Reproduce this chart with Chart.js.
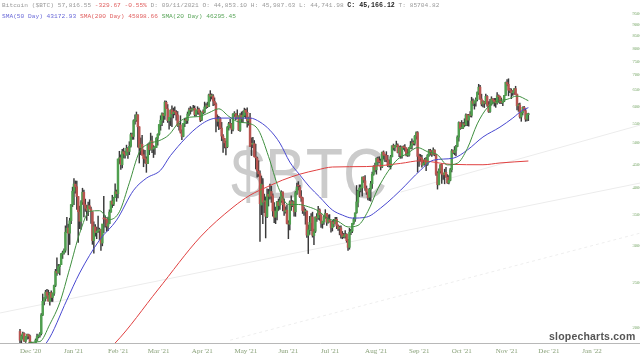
<!DOCTYPE html>
<html><head><meta charset="utf-8">
<script src="https://cdn.jsdelivr.net/npm/chart.js@4.4.0/dist/chart.umd.min.js"></script>
<style>
html,body{margin:0;padding:0;background:#fff;}
#wrap{position:relative;width:640px;height:359px;overflow:hidden;background:#fff;}
canvas{position:absolute;left:0;top:0;}
.hdr{position:absolute;left:2px;font-family:'Liberation Mono',monospace;font-size:6.2px;color:#9a9a9a;white-space:pre;line-height:8px;}
.hdr .r{color:#e06060}.hdr .b{color:#6a6ad8}.hdr .g{color:#5aa55a}
.hdr .c{color:#222;font-weight:bold;font-size:6.6px}
#brand{position:absolute;left:549px;top:330px;font:bold 10.5px 'Liberation Sans',sans-serif;color:#555;letter-spacing:0.2px;}
</style></head>
<body><div id="wrap"><canvas id="c" width="640" height="359"></canvas>
<div class="hdr" style="top:2px">Bitcoin ($BTC) 57,816.55 <span class="r">-329.67 -0.55%</span> D: 09/11/2021 O: 44,853.10 H: 45,987.63 L: 44,741.98 <span class="c">C: 45,166.12</span> T: 85704.82</div>
<div class="hdr" style="top:13px"><span class="b">SMA(50 Day) 43172.93</span> <span class="r">SMA(200 Day) 45898.66</span> <span class="g">SMA(20 Day) 46295.45</span></div>
<div id="brand">slopecharts.com</div></div>
<script>
// day index 0 = 2020-12-01 (daily candles to 2021-11-24)
const open = [
19633,18802,19205,19446,18699,19154,19343,19191,18320,18553,18264,18051,18806,19144,19246,19418,21308,22806,23133,23861,23475,22795,23782,23240,23733,24678,26439,26280,27081,27360,28841,
28994,29376,32129,32810,31977,34013,36833,39381,40788,40254,38346,35516,33915,37325,39156,36821,36163,35792,36642,36050,35549,30818,32986,32064,32285,32358,32564,30441,34318,34295,34270,
33115,33533,35510,37475,36931,38138,39250,38886,46184,46469,44898,47877,47491,47114,48696,47944,49207,52141,51675,55887,56115,57532,54204,48835,49709,47180,46344,46194,
45159,49612,48415,50522,48527,48899,48919,51207,52273,54824,55963,57821,57343,61221,59267,55840,56825,58893,57850,58332,58309,57517,54512,54711,52726,51683,55138,55974,55947,57750,58930,
58926,59098,59398,57604,58761,59171,58186,56100,58287,58254,59846,60175,59890,63523,63075,63158,61529,60701,56191,55681,56471,53857,51740,51143,50052,49077,54030,55036,54858,53568,
57714,57825,56620,57214,53252,57441,56413,57352,58877,58250,55848,56714,49735,49682,49855,46716,46415,43488,42944,36753,40597,37371,37531,34700,38795,38392,39317,38507,35684,34607,35659,
37293,36699,37600,39243,36880,35538,35835,33589,33417,37389,36697,37340,35555,39016,40427,40168,38342,38100,35854,35563,35641,31622,32515,33683,34659,31594,32287,34679,34475,35908,
35035,33550,33854,34665,35284,33723,34225,33889,32861,33809,33510,34259,33155,32724,32828,31842,31398,31533,31801,30838,29796,32138,32305,33593,34290,35384,37276,39456,39978,40028,42213,
41460,39907,39178,38213,39745,40865,42832,44574,43791,46280,45601,45576,44440,47810,47097,47020,45937,44686,44741,46723,49328,48870,49291,49533,47683,48992,46895,49080,48868,48813,47100,
47099,48808,49288,50026,49946,51769,52661,46827,46395,46400,44870,45206,46057,44960,47098,48158,47771,47273,48268,47262,43013,40677,43560,44928,42840,42721,43234,42200,41064,41551,
43816,48137,47680,48208,49174,51486,55338,53802,53929,54952,54734,57526,56038,57372,57345,61609,60887,61548,62044,64284,66002,62237,60694,61368,60893,63033,60352,58470,60625,62239,61850,
61320,60964,63254,62942,61460,61069,61554,63344,67550,66953,64978,64864,64158,64455,65521,63721,60139,60361,56896,58115,59730,58706,56304,57565];
const high = [
19845,19308,19566,19511,19160,19390,19375,19283,18627,18553,18268,18919,19381,19305,19525,21458,23642,23238,24085,24209,24103,23838,24024,23768,24710,26718,28288,27390,27370,28937,29244,
29601,33155,34608,33440,34437,36879,40180,41946,41436,41420,38346,36568,37599,39966,39577,37864,36722,37299,37755,36378,35552,33811,33360,32944,34802,32794,32564,31891,38406,34834,34288,
34638,35896,37480,38592,38225,40846,39621,46203,48003,47145,48463,48745,48047,49487,48875,50341,52534,52530,56114,57506,58330,57533,54204,51290,51948,48370,48253,46716,
49784,50128,52536,51735,49396,49147,51384,52314,54824,57258,58091,57996,61683,61598,60540,56833,58970,60116,59498,59882,58767,58471,55115,57262,53392,55137,56568,56610,58343,59447,59931,
59586,60267,60110,58913,59891,59479,58731,58338,58937,61276,60790,61253,63742,64863,63821,63595,62572,61057,57520,57062,56757,55410,52121,51167,50506,54288,55416,56227,55115,57900,
58448,57902,58973,57214,57911,58363,58606,59464,59210,59519,56872,57939,51330,51438,50639,49720,46623,45813,43546,42462,41934,38832,38289,39835,39776,40782,40379,38856,37234,36400,37469,
37896,38231,39476,39242,37917,36436,36790,34017,37537,38492,37599,37468,39322,40978,41295,40516,39513,38187,36457,36059,35721,33292,34753,35228,35487,32637,34656,35219,36542,36074,
35035,33939,34909,35937,35284,35038,35059,33907,34042,34249,34593,34591,33339,33114,33159,32249,31935,32399,31885,31006,32752,32576,33581,34492,35364,40499,39543,40640,40626,42236,42314,
42541,40419,39208,39952,41341,43271,44689,45282,46456,46637,46718,46195,47829,48098,47357,47912,47042,46031,47036,49343,49757,49471,50482,49810,49237,49349,49125,49330,49600,48849,48481,
48936,50392,51033,50558,51900,52853,52920,47339,47261,47031,45969,46364,46598,47218,48450,48486,48158,48842,48370,47345,43397,43978,44942,45123,42996,43919,44313,42775,42545,44092,
48436,48282,49130,49456,51839,55568,55338,55922,55397,56401,57794,57627,57688,58478,62757,62274,61645,62614,64434,66930,66600,63732,61743,61505,63729,63290,61435,62128,62927,62330,62406,
62419,64242,63516,63123,62541,61590,63326,67673,68530,68789,65579,65460,64915,65495,66281,63721,60823,60976,58351,59859,60004,59266,57876,58000];
const low = [
18321,18347,18925,18697,18590,18897,18925,18269,17935,17957,17619,18046,18735,19012,19079,19298,21234,22399,22829,23147,22858,22378,22802,22777,23463,24522,25922,26207,25987,27360,28201,
28804,29091,32052,28722,30221,33514,36491,36838,38981,35984,30549,32697,32584,36868,34659,35633,34069,34883,36069,33570,30250,28953,31493,31106,32087,30943,29367,30023,32064,32940,32270,
32384,33490,35443,36317,36658,38138,37447,38077,45166,43881,44187,46424,46392,47114,46347,47201,48967,50906,50937,54894,55673,48967,45290,47213,47093,44454,45269,43241,
45115,47229,48274,47656,46543,47257,48918,49506,51981,53290,54484,55376,56217,59302,55393,53555,54528,54253,56643,57470,56005,54288,53325,52514,50856,51579,54242,55071,55139,57251,57727,
58505,58870,57117,57168,57694,57646,55604,55879,57807,58038,59289,59589,59870,61554,62208,60222,60361,52829,54368,53448,53695,50583,47714,48805,47159,48852,53319,53887,52418,53129,
57052,56141,56590,53191,52969,55383,55321,56975,56482,54071,54608,49150,46980,48868,46664,43963,42207,42367,30681,35050,33533,35383,31227,34551,36581,37868,37247,34779,33693,33520,34154,
35787,35967,37243,35717,34900,35304,33480,31114,32475,35787,36463,34800,34757,38757,39609,38176,37439,35255,34933,33432,31295,28893,31772,32385,31351,30184,32071,33902,34252,34086,
32883,32770,33402,34396,33213,33599,33769,32133,32318,33019,33457,32700,32407,31704,31176,31100,31223,31178,30563,29360,29526,31745,32057,33401,33881,35287,36400,38313,39251,38397,41110,
39540,38746,37702,37589,37458,39932,42618,43331,42848,44705,45348,43747,44254,46177,45579,45548,44448,44376,43955,46650,48273,48116,49075,47621,46709,46352,46395,48428,48005,46930,46785,
46856,48652,48493,49534,49506,50992,43285,44553,45669,44344,44818,44790,43591,44753,46773,47079,46800,47084,46938,42600,39787,40625,43094,40936,41759,40848,42190,40931,40829,41444,
43321,47465,47157,46937,49072,50488,53525,53688,53735,54264,54519,54477,54370,56957,56869,60206,59164,60012,61622,63610,62117,60122,59826,59643,60691,59992,58208,58206,60329,60918,60074,
59695,60673,61184,60799,60844,60164,61432,63344,66382,63208,64181,62333,63303,63647,63548,58966,58515,56542,55705,57470,58618,55679,55842,55893];
const close = [
18802,19201,19445,18699,19154,19345,19191,18321,18553,18264,18058,18803,19142,19246,19417,21310,22805,23137,23869,23477,22803,23783,23241,23735,24665,26437,26273,27084,27362,28841,29002,
29374,32127,32782,31971,33992,36824,39371,40797,40254,38356,35566,33922,37316,39187,36825,36178,35791,36630,36069,35547,30825,33005,32067,32289,32366,32569,30432,33466,34316,34269,33114,
33537,35510,37472,36926,38144,39266,38903,46196,46481,44919,47909,47504,47105,48717,47945,49199,52149,51679,55888,56100,57539,54207,48824,49705,47093,46339,46188,45137,
49632,48378,50538,48561,48927,48912,51206,52246,54824,56008,57805,57332,61243,59302,55907,56804,58870,57858,58346,58313,57524,54529,54738,52774,51704,55137,55974,55947,57750,58918,58918,
59095,59384,57603,58758,59057,58192,56048,58323,58245,59793,60204,59893,63503,63109,63314,61572,60683,56216,55724,56473,53906,51762,51093,50050,49004,54021,55033,54824,53555,57750,
57828,56631,57200,53333,57424,56397,57356,58804,58232,55859,56704,49150,49716,49880,46760,46456,43538,42909,37002,40782,37304,37536,34770,38705,38403,39294,38436,35697,34617,35678,37332,
36685,37576,39188,36825,35791,35862,33561,33473,37345,36703,37334,35553,39097,40218,40406,38347,38053,35787,35615,35698,31676,32505,33723,34662,31637,32186,34650,34495,35867,35040,
33572,33897,34668,35287,33746,34235,33855,32877,33798,33520,34240,33155,32702,32822,31780,31421,31533,31796,30817,29807,32110,32313,33581,34292,35350,37337,39406,39995,40008,42235,41626,
39974,39201,38152,39747,40869,42816,44555,43798,46365,45585,45593,44428,47793,47096,47047,46004,44695,44801,46717,49339,48905,49321,49546,47706,48960,46942,49058,48897,48806,47074,47166,
48847,49327,50025,49944,51753,52633,46812,46091,46391,44883,45201,46063,44963,47092,48176,47783,47267,48278,47260,42843,40693,43574,44895,42840,42716,43208,42236,41034,41564,43790,
48116,47711,48199,49112,51514,55361,53805,53967,54968,54771,57484,56041,57401,57321,61593,60892,61553,62026,64262,65992,62210,60693,61393,60931,63040,60364,58482,60622,62228,61888,61318,
61004,63227,62970,61453,61125,61528,63326,67566,66971,64995,64950,64155,64470,65466,63557,60161,60369,56942,58119,59697,58730,56289,57570,57816];

// moving averages (day index, price)
const sma20Days = [0,7,14,21,28,35,42,49,56,63,70,77,84,91,98,105,112,119,126,133,140,147,154,161,168,175,182,189,196,203,210,217,224,231,238,245,252,259,266,273,280,287,294,301,308,315,322,329,336,343,350,358];
const sma20Vals = [17750,18593,18673,20341,22646,26838,31937,35617,35747,34200,35558,41045,47780,49862,50596,52119,55463,56839,57026,58122,59259,57096,55499,55143,53274,46813,40075,36876,36869,36452,35711,34350,33904,32976,33233,35637,39860,43379,46149,47515,48889,47898,47174,44870,45232,48667,54994,59535,61552,62117,63149,61690];
const sma50Days = [10,19,33,42,56,68,80,89,99,106,127,139,162,169,176,183,190,197,204,211,220,227,234,244,254,263,268,282,291,305,315,326,338,347,354,358];
const sma50Vals = [17800,18630,22940,26240,30900,34100,39560,42000,43700,47000,54700,56600,56600,55500,53300,50000,45500,42700,40200,38260,35860,34980,34460,34630,36220,38260,39560,43700,45920,46380,48300,51520,54120,56600,58880,59600];
const sma200Days = [60,67,97,127,150,162,174,185,197,209,220,244,268,282,303,326,338,358];
const sma200Vals = [17800,18540,24120,31380,36360,38600,40220,41620,42840,43740,44400,44500,45200,45800,45000,44900,45300,45740];

// faint drawn trendlines (day index, price) endpoints
const trendA = [[268,39200],[437,54700]];
const trendB = [[-14,21520],[437,41020]];
const trendC = [[148,18800],[437,32000]];

const monthDays = [0,31,62,90,121,151,182,212,243,274,304,335,365,396];
const monthLabels = ["Dec '20","Jan '21","Feb '21","Mar '21","Apr '21","May '21","Jun '21","Jul '21","Aug '21","Sep '21","Oct '21","Nov '21","Dec '21","Jan '22"];
const yTicks = [20000,25000,30000,35000,40000,45000,50000,55000,60000,65000,70000,75000,80000,85000,90000,95000];

const wicks = close.map((c,i)=>({x:i, y:[low[i], high[i]]}));
const bodies = close.map((c,i)=>({x:i, y:[Math.min(open[i],c), Math.max(open[i],c)]}));
const pts = (d,v)=>d.map((x,i)=>({x, y:v[i]}));
const seg = t=>t.map(p=>({x:p[0], y:p[1]}));

const watermark = {id:'wm', beforeDatasetsDraw(chart){
  const ctx = chart.ctx; ctx.save();
  ctx.fillStyle = '#cbcbcb'; ctx.font = '71px "Liberation Sans", sans-serif';
  ctx.textBaseline = 'alphabetic'; ctx.translate(231,198); ctx.scale(0.86,1);
  ctx.fillText('$BTC',0,0); ctx.restore();
}};

const lineDs = (data,color,order,extra)=>Object.assign({type:'line',data,borderColor:color,borderWidth:1,pointRadius:0,fill:false,cubicInterpolationMode:'monotone',order},extra||{});

new Chart(document.getElementById('c'), {
  type:'bar',
  data:{datasets:[
    lineDs(pts(sma20Days,sma20Vals),'#3f8f3f',0),
    lineDs(pts(sma50Days,sma50Vals),'#4848d0',0),
    lineDs(pts(sma200Days,sma200Vals),'#e04040',0),
    {type:'bar',data:bodies,order:1,grouped:false,barThickness:1.8,minBarLength:1,borderWidth:0,
      backgroundColor:ctx=>close[ctx.dataIndex]>=open[ctx.dataIndex]?'#4f9f4f':'#b85450'},
    {type:'bar',data:wicks,order:2,grouped:false,barThickness:0.8,borderWidth:0,backgroundColor:'#3a3a3a'},
    lineDs(seg(trendA),'rgba(0,0,0,0.08)',3,{cubicInterpolationMode:'default',tension:0}),
    lineDs(seg(trendB),'rgba(0,0,0,0.08)',3,{cubicInterpolationMode:'default',tension:0}),
    lineDs(seg(trendC),'rgba(0,0,0,0.07)',3,{cubicInterpolationMode:'default',tension:0,borderDash:[3,3]})
  ]},
  options:{
    responsive:false, animation:false, devicePixelRatio:1,
    layout:{padding:0},
    plugins:{legend:{display:false},tooltip:{enabled:false}},
    scales:{
      x:{type:'linear',min:-14.08,max:436.6,offset:false,
        grid:{display:false,drawTicks:false},
        border:{display:true,color:'#b8b8b8',width:1},
        afterBuildTicks:s=>{s.ticks=monthDays.map(v=>({value:v}));},
        afterFit:s=>{s.height=16;s.paddingLeft=0;s.paddingRight=0;},
        ticks:{autoSkip:false,maxRotation:0,minRotation:0,align:'start',padding:4,color:'#88a078',
          font:{family:'Liberation Serif',size:7},callback:(v,i)=>monthLabels[i]}
      },
      y:{type:'logarithmic',position:'right',min:18540,max:101690,
        grid:{display:false,drawTicks:false},border:{display:false},
        afterBuildTicks:s=>{s.ticks=yTicks.map(v=>({value:v}));},
        afterFit:s=>{s.width=0;s.paddingTop=0;s.paddingBottom=0;},
        ticks:{mirror:true,padding:4,color:'#7aa86a',font:{family:'Liberation Serif',size:4.6},callback:v=>String(v)}
      }
    }
  },
  plugins:[watermark]
});
</script>
</body></html>
